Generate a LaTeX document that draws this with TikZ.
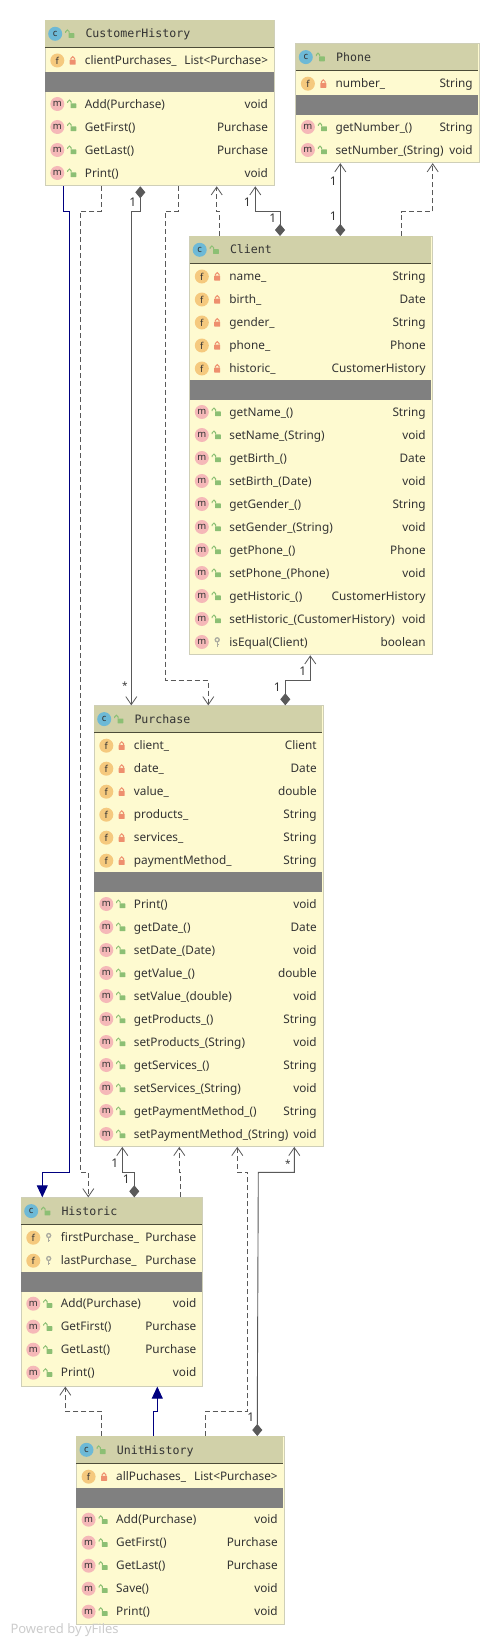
\documentclass[tikz,border=0pt]{standalone}
\usepackage{fontspec}
\setmainfont{Noto Sans}
\newfontfamily\titlefont{DejaVu Sans Mono}
\usetikzlibrary{arrows.meta}
\definecolor{headc}{HTML}{D1D1A9}
\definecolor{bodyc}{HTML}{FEFAD0}
\definecolor{borderc}{HTML}{CFCFB8}
\definecolor{sepc}{HTML}{808080}
\definecolor{rulec}{HTML}{4C4C38}
\definecolor{linec}{HTML}{595959}
\definecolor{navyc}{HTML}{000080}
\definecolor{textc}{HTML}{333333}
\definecolor{cfill}{HTML}{6DB9D6}
\definecolor{ffill}{HTML}{F5C97E}
\definecolor{mfill}{HTML}{F5B8B8}
\definecolor{lockr}{HTML}{EE8F6E}
\definecolor{lockg}{HTML}{8CBF74}
\definecolor{keyc}{HTML}{ABABA0}
\tikzset{
  classbox/.style={draw=borderc,fill=bodyc,line width=0.9pt,inner sep=0,anchor=north west},
  titletext/.style={font=\titlefont\fontsize{11.6}{14}\selectfont,text=textc,anchor=base west,inner sep=0},
  nametext/.style={font=\fontsize{11.8}{14}\selectfont,text=textc,anchor=base west,inner sep=0},
  typetext/.style={font=\fontsize{11.8}{14}\selectfont,text=textc,anchor=base east,inner sep=0},
  badge/.style={circle,inner sep=0,minimum size=14pt,font=\fontsize{9.5}{10}\selectfont,text=textc},
  assoc/.style={draw=linec,line width=0.9pt,-{Straight Barb[length=8pt,width=11pt,line width=0.8pt]}},
  dep/.style={assoc,dash pattern=on 5pt off 3pt},
  comp/.style={draw=linec,line width=0.9pt,{Diamond[length=12pt,width=10pt,fill=linec]}-{Straight Barb[length=8pt,width=11pt,line width=0.8pt]}},
  inherit/.style={draw=navyc,line width=0.9pt,-{Triangle[length=12pt,width=11pt,fill=navyc]}},
  mult/.style={font=\fontsize{12}{14}\selectfont,text=textc,inner sep=0},
  multstar/.style={font=\fontsize{10}{12}\selectfont,text=textc,inner sep=0},
}
% #1 x, #2 y centre
\newcommand{\lockshut}[2]{%
  \fill[lockr,rounded corners=0.5pt] (#1-3,#2-0.8) rectangle (#1+3,#2+4.2);
  \draw[lockr,line width=1pt] (#1-1.9,#2-0.8) -- (#1-1.9,#2-2) arc[start angle=180,end angle=360,radius=1.9] -- (#1+1.9,#2-0.8);}
\newcommand{\lockopen}[2]{%
  \fill[lockg,rounded corners=0.5pt] (#1-1.2,#2-0.6) rectangle (#1+4.6,#2+4.2);
  \draw[lockg,line width=1pt] (#1-0.6,#2-0.6) -- (#1-0.6,#2-2.2) arc[start angle=0,end angle=-180,radius=1.7] -- (#1-4,#2-1);}
\newcommand{\keyicon}[2]{%
  \draw[keyc,line width=1.3pt] (#1,#2-2.2) circle[radius=2];
  \draw[keyc,line width=1.3pt] (#1,#2-0.2) -- (#1,#2+4.6) (#1,#2+2.6) -- (#1+1.6,#2+2.6);}
% frame: name, left, top, right, bottom, header bottom, sep top, title
\newcommand{\classframe}[8]{%
  \pgfmathsetlengthmacro{\bw}{#4-#2}\pgfmathsetlengthmacro{\bh}{#5-#3}%
  \node[classbox,minimum width=\bw,minimum height=\bh] (#1) at (#2,#3) {};
  \fill[headc] (#2+0.4,#3+0.4) rectangle (#4-0.4,#6);
  \draw[rulec,line width=0.8pt] (#2+0.4,#6) -- (#4-0.4,#6);
  \fill[sepc] (#2+0.4,#7) rectangle (#4-0.4,#7+20);
  \node[badge,fill=cfill] (#1-icon) at (#2+10.5,#3+13.8) {c};
  \lockopen{#2+25}{#3+13.8}
  \node[titletext] (#1-title) at (#2+40.6,#3+18) {#8};
  \xdef\curL{#2}\xdef\curR{#4}\xdef\curN{#1}}
% row: key, kind(f/m), vis(r/g/k), y centre, name, type
\newcommand{\classrow}[6]{%
  \ifx f#2\node[badge,fill=ffill] (\curN-i#1) at (\curL+12.6,#4) {f};\else
  \node[badge,fill=mfill] (\curN-i#1) at (\curL+12.6,#4) {m};\fi
  \if r#3\lockshut{\curL+28}{#4}\fi
  \if g#3\lockopen{\curL+27}{#4}\fi
  \if k#3\keyicon{\curL+28}{#4}\fi
  \node[nametext] (\curN-n#1) at (\curL+40,#4+4.2) {#5};
  \node[typetext] (\curN-t#1) at (\curR-5.8,#4+4.2) {#6};}
\begin{document}
\begin{tikzpicture}[x=1pt,y=-1pt]
\useasboundingbox (0,0) rectangle (499,1645);
\fill[white] (0,0) rectangle (499,1645);
% CustomerHistory
\classframe{ch}{44.7}{20}{274}{185.4}{47.3}{72}{CustomerHistory}
\classrow{1}{f}{r}{60.5}{clientPurchases\_}{List<Purchase>}
\classrow{2}{m}{g}{104}{Add(Purchase)}{void}
\classrow{3}{m}{g}{127}{GetFirst()}{Purchase}
\classrow{4}{m}{g}{150}{GetLast()}{Purchase}
\classrow{5}{m}{g}{173}{Print()}{void}
% Phone
\classframe{ph}{295.3}{43.3}{478.7}{162.3}{70.7}{95}{Phone}
\classrow{1}{f}{r}{83.7}{number\_}{String}
\classrow{2}{m}{g}{127}{getNumber\_()}{String}
\classrow{3}{m}{g}{150}{setNumber\_(String)}{void}
% Client
\classframe{cl}{189.2}{236}{431.7}{654.4}{263.3}{380}{Client}
\classrow{1}{f}{r}{276.5}{name\_}{String}
\classrow{2}{f}{r}{299.5}{birth\_}{Date}
\classrow{3}{f}{r}{322.5}{gender\_}{String}
\classrow{4}{f}{r}{345.5}{phone\_}{Phone}
\classrow{5}{f}{r}{368.5}{historic\_}{CustomerHistory}
\classrow{6}{m}{g}{412}{getName\_()}{String}
\classrow{7}{m}{g}{435}{setName\_(String)}{void}
\classrow{8}{m}{g}{458}{getBirth\_()}{Date}
\classrow{9}{m}{g}{481}{setBirth\_(Date)}{void}
\classrow{10}{m}{g}{504}{getGender\_()}{String}
\classrow{11}{m}{g}{527}{setGender\_(String)}{void}
\classrow{12}{m}{g}{550}{getPhone\_()}{Phone}
\classrow{13}{m}{g}{573}{setPhone\_(Phone)}{void}
\classrow{14}{m}{g}{596}{getHistoric\_()}{CustomerHistory}
\classrow{15}{m}{g}{619}{setHistoric\_(CustomerHistory)}{void}
\classrow{16}{m}{k}{642}{isEqual(Client)}{boolean}
% Purchase
\classframe{pu}{93.7}{705.3}{322.7}{1146}{732.3}{872}{Purchase}
\classrow{1}{f}{r}{745.7}{client\_}{Client}
\classrow{2}{f}{r}{768.7}{date\_}{Date}
\classrow{3}{f}{r}{791.7}{value\_}{double}
\classrow{4}{f}{r}{814.7}{products\_}{String}
\classrow{5}{f}{r}{837.7}{services\_}{String}
\classrow{6}{f}{r}{860.7}{paymentMethod\_}{String}
\classrow{7}{m}{g}{904}{Print()}{void}
\classrow{8}{m}{g}{927}{getDate\_()}{Date}
\classrow{9}{m}{g}{950}{setDate\_(Date)}{void}
\classrow{10}{m}{g}{973}{getValue\_()}{double}
\classrow{11}{m}{g}{996}{setValue\_(double)}{void}
\classrow{12}{m}{g}{1019}{getProducts\_()}{String}
\classrow{13}{m}{g}{1042}{setProducts\_(String)}{void}
\classrow{14}{m}{g}{1065}{getServices\_()}{String}
\classrow{15}{m}{g}{1088}{setServices\_(String)}{void}
\classrow{16}{m}{g}{1111}{getPaymentMethod\_()}{String}
\classrow{17}{m}{g}{1134}{setPaymentMethod\_(String)}{void}
% Historic
\classframe{hi}{20.7}{1197.3}{202.3}{1385.7}{1224.3}{1272}{Historic}
\classrow{1}{f}{k}{1237.7}{firstPurchase\_}{Purchase}
\classrow{2}{f}{k}{1260.7}{lastPurchase\_}{Purchase}
\classrow{3}{m}{g}{1303.7}{Add(Purchase)}{void}
\classrow{4}{m}{g}{1326.7}{GetFirst()}{Purchase}
\classrow{5}{m}{g}{1349.7}{GetLast()}{Purchase}
\classrow{6}{m}{g}{1372.7}{Print()}{void}
% UnitHistory
\classframe{un}{76}{1436}{283.7}{1624}{1463.3}{1488}{UnitHistory}
\classrow{1}{f}{r}{1476.7}{allPuchases\_}{List<Purchase>}
\classrow{2}{m}{g}{1519.7}{Add(Purchase)}{void}
\classrow{3}{m}{g}{1542.7}{GetFirst()}{Purchase}
\classrow{4}{m}{g}{1565.7}{GetLast()}{Purchase}
\classrow{5}{m}{g}{1588.7}{Save()}{void}
\classrow{6}{m}{g}{1611.7}{Print()}{void}
% connectors
\draw[inherit] ([xshift=18.6pt]ch.south west) -- (63.3,211) -- (69.5,211) -- (69.5,1172.3) -- (42.3,1172.3) -- ([xshift=21.6pt]hi.north west);
\draw[dep] ([xshift=57pt]ch.south west) -- (101.7,211) -- (80.5,211) -- (80.5,1172.3) -- (88.3,1172.3) -- ([xshift=67.6pt]hi.north west);
\draw[comp] ([xshift=95.6pt]ch.south west) -- (140.3,211) -- (131.3,211) -- (131.3,680) -- ([xshift=37.6pt]pu.north west);
\draw[dep] ([xshift=133.6pt]ch.south west) -- (178.3,211) -- (165.5,211) -- (165.5,680.3) -- (208.3,680.3) -- ([xshift=114.6pt]pu.north west);
\draw[dep] ([xshift=30.5pt]cl.north west) -- (219.7,211) -- (216.7,211) -- ([xshift=172pt]ch.south west);
\draw[comp] ([xshift=90.8pt]cl.north west) -- (280,211) -- (255.3,211) -- ([xshift=210.6pt]ch.south west);
\draw[comp] ([xshift=151.1pt]cl.north west) -- ([xshift=45pt]ph.south west);
\draw[dep] ([xshift=212.1pt]cl.north west) -- (401.3,211.7) -- (432.7,211.7) -- ([xshift=137.4pt]ph.south west);
\draw[comp] ([xshift=191.6pt]pu.north west) -- (285.3,680.3) -- (310.3,680.3) -- ([xshift=121.1pt]cl.south west);
\draw[comp] ([xshift=113.6pt]hi.north west) -- (134.3,1172.3) -- (122.3,1172.3) -- ([xshift=28.6pt]pu.south west);
\draw[dep] ([xshift=159.6pt]hi.north west) -- (180.3,1172.3) -- (179.3,1172.3) -- ([xshift=85.6pt]pu.south west);
\draw[dep] ([xshift=129.3pt]un.north west) -- (205.3,1411.3) -- (247.7,1411.3) -- (247.7,1172.3) -- (237.3,1172.3) -- ([xshift=143.6pt]pu.south west);
\draw[comp] ([xshift=181.3pt]un.north west) -- (257.3,1411.3) -- (258.3,1172.3) -- (294.3,1172.3) -- ([xshift=200.6pt]pu.south west);
\draw[dep] ([xshift=25.7pt]un.north west) -- (101.7,1411.3) -- (65.3,1411.3) -- ([xshift=44.6pt]hi.south west);
\draw[inherit] ([xshift=77.3pt]un.north west) -- (153.3,1411.3) -- (157.3,1411.3) -- ([xshift=136.6pt]hi.south west);
% multiplicities
\node[mult] (m1) at (132.7,202.7) {1};
\node[multstar] (m2) at (125,685.5) {*};
\node[mult] (m3) at (247.3,202.7) {1};
\node[mult] (m4) at (272.7,218.7) {1};
\node[mult] (m5) at (333.3,181.7) {1};
\node[mult] (m6) at (333.3,216.7) {1};
\node[mult] (m7) at (302.7,671.7) {1};
\node[mult] (m8) at (277.3,687.7) {1};
\node[mult] (m9) at (114.7,1163.3) {1};
\node[mult] (m10) at (126.3,1179.3) {1};
\node[multstar] (m11) at (288,1163.5) {*};
\node[mult] (m12) at (250.7,1416.7) {1};
\node[font=\fontsize{13}{15}\selectfont,text=black!20,anchor=base west,inner sep=0] (powered) at (10.3,1633) {Powered by yFiles};
\end{tikzpicture}
\end{document}
